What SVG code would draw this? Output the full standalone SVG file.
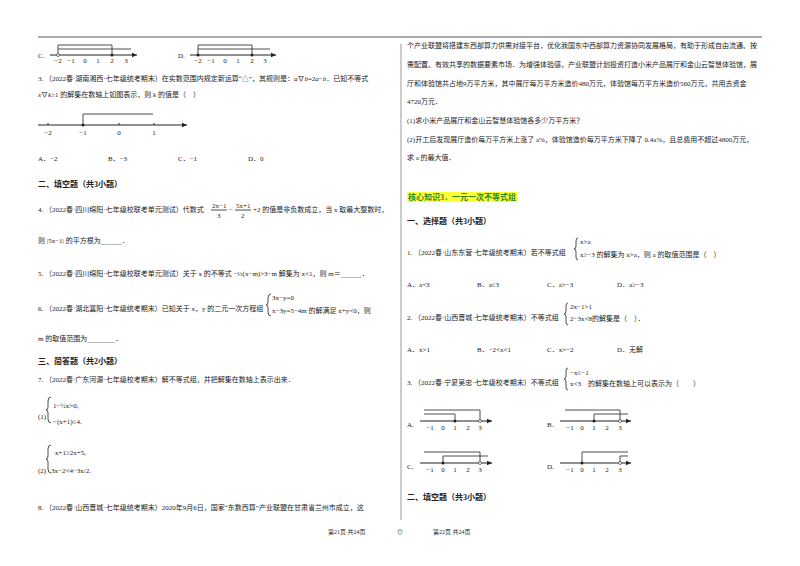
<svg xmlns="http://www.w3.org/2000/svg" width="800" height="566" viewBox="0 0 800 566">
<style>
text{font-family:"Liberation Serif","Noto Sans CJK SC",serif;font-size:7px;fill:#222}
.b{font-weight:bold;font-size:8px}
.ax{stroke:#222;stroke-width:1;fill:none}
.br{stroke:#222;stroke-width:0.8;fill:none}
.s{font-size:6px}
.n{text-anchor:middle}
</style>
<defs><marker id="ar" markerWidth="6" markerHeight="6" refX="5" refY="3" orient="auto"><path d="M0,0.8 L5,3 L0,5.2Z" fill="#222"/></marker></defs>
<rect width="800" height="566" fill="#fff"/>
<line x1="38" y1="37" x2="762" y2="37" stroke="#555" stroke-width="1"/>
<line x1="401" y1="44" x2="401" y2="520" stroke="#999" stroke-width="1"/>

<g id="left">
<text x="38" y="58">C.</text>
<line class="ax" x1="50" y1="55" x2="137" y2="55" marker-end="url(#ar)"/>
<polyline class="br" points="58,55 58,45 112,45 112,55"/><line class="br" x1="58" y1="49" x2="131" y2="49"/>
<circle cx="58" cy="55" r="1.5" fill="#fff" stroke="#222" stroke-width="0.6"/><circle cx="112" cy="55" r="1.5" fill="#222"/>
<g class="n"><text class="n" x="58" y="63">−2</text><text class="n" x="71" y="63">−1</text><text class="n" x="85" y="63">0</text><text class="n" x="98" y="63">1</text><text class="n" x="112" y="63">2</text><text class="n" x="126" y="63">3</text></g>
<text x="178" y="58">D.</text>
<line class="ax" x1="190" y1="55" x2="276" y2="55" marker-end="url(#ar)"/>
<polyline class="br" points="198,55 198,45 252,45 252,55"/><line class="br" x1="198" y1="49" x2="270" y2="49"/>
<circle cx="198" cy="55" r="1.5" fill="#222"/><circle cx="252" cy="55" r="1.5" fill="#222"/>
<text class="n" x="198" y="63">−2</text><text class="n" x="211" y="63">−1</text><text class="n" x="225" y="63">0</text><text class="n" x="238" y="63">1</text><text class="n" x="252" y="63">2</text><text class="n" x="265" y="63">3</text>

<text x="38" y="81">3. （2022春·湖南湘西·七年级统考期末）在实数范围内规定新运算“△”，其规则是：<tspan font-style="italic">a</tspan>∇<tspan font-style="italic">b</tspan>=2<tspan font-style="italic">a</tspan>−<tspan font-style="italic">b</tspan>．已知不等式</text>
<text x="38" y="97"><tspan font-style="italic">x</tspan>∇<tspan font-style="italic">k</tspan>≥1 的解集在数轴上如图表示，则 <tspan font-style="italic">k</tspan> 的值是（　）</text>
<line class="ax" x1="38" y1="125" x2="187" y2="125" marker-end="url(#ar)"/>
<polyline class="br" points="83,125 83,114 153,114"/><circle cx="83" cy="125" r="1.5" fill="#222"/>
<line class="ax" x1="48" y1="123" x2="48" y2="125"/><line class="ax" x1="119" y1="123" x2="119" y2="125"/><line class="ax" x1="154" y1="123" x2="154" y2="125"/>
<text class="n" x="48" y="135">−2</text><text class="n" x="83" y="135">−1</text><text class="n" x="119" y="135">0</text><text class="n" x="154" y="135">1</text>
<text x="38" y="161">A．−2</text><text x="108" y="161">B．−3</text><text x="178" y="161">C．−1</text><text x="248" y="161">D．0</text>
<text class="b" x="38" y="187">二、填空题（共3小题）</text>
<text x="38" y="212">4. （2022春·四川绵阳·七年级校联考单元测试）代数式</text>
<text x="212" y="208">2x−1</text><line class="br" x1="211" y1="210" x2="227" y2="210"/><text x="217" y="218">3</text>
<text x="229" y="212">−</text><text x="236" y="208">5x+1</text><line class="br" x1="235" y1="210" x2="251" y2="210"/><text x="241" y="218">2</text>
<text x="253" y="212">+2 的值是非负数成立，当 x 取最大整数时，</text>
<text x="38" y="243">则 |5x−1| 的平方根为＿＿＿．</text>
<text x="38" y="276">5. （2022春·四川绵阳·七年级校联考单元测试）关于 x 的不等式 −⅓(x−m)&gt;3−m 解集为 x&lt;1，则 m＝＿＿＿．</text>
<text x="272" y="300">3x−y=0</text><text x="272" y="313">x−3y=5−4m 的解满足 x+y&lt;0，则</text>
<path class="br" d="M271,294 q-3,0 -3,4 v4 q0,3 -2,3 q2,0 2,3 v4 q0,4 3,4"/>
<text x="38" y="311">6. （2022春·湖北襄阳·七年级统考期末）已知关于 x，y 的二元一次方程组</text>
<text x="38" y="341">m 的取值范围为＿＿＿＿．</text>
<text class="b" x="38" y="364">三、简答题（共2小题）</text>
<text x="38" y="382">7. （2022春·广东河源·七年级校考期末）解不等式组，并把解集在数轴上表示出来．</text>
<path class="br" d="M51,397 q-3,0 -3,4 v6 q0,3 -2,3 q2,0 2,3 v6 q0,4 3,4"/>
<text x="38" y="419">(1)</text><text x="53" y="408">1−½x&gt;0,</text><text x="53" y="424">−(x+1)≤4.</text>
<path class="br" d="M51,445 q-3,0 -3,4 v7 q0,3 -2,3 q2,0 2,3 v7 q0,4 3,4"/>
<text x="38" y="473">(2)</text><text x="55" y="455">x+1≥2x+5,</text><text x="51" y="473">3x−2&lt;4−3x/2.</text>
<text x="38" y="510">8. （2022春·山西晋城·七年级统考期末）2020年9月6日，国家“东数西算”产业联盟在甘肃省兰州市成立，这</text>
<text x="328" y="534" class="s">第21页 共24页</text>
<text x="397" y="534" class="s">⊙</text>
</g>

<g id="right">
<text x="407" y="48">个产业联盟将搭建东西部算力供需对接平台，优化我国东中西部算力资源协同发展格局，有助于形成自由流通、按</text>
<text x="407" y="67">需配置、有效共享的数据要素市场．为增强体验感，产业联盟计划投资打造小米产品展厅和金山云智慧体验馆，展</text>
<text x="407" y="86">厅和体验馆共占地9万平方米，其中展厅每万平方米造价480万元，体验馆每万平方米造价560万元，共用去资金</text>
<text x="407" y="104">4720万元．</text>
<text x="407" y="123">(1)求小米产品展厅和金山云智慧体验馆各多少万平方米？</text>
<text x="407" y="142">(2)开工后发现展厅造价每万平方米上涨了 a%，体验馆造价每万平方米下降了 0.4a%，且总费用不超过4800万元，</text>
<text x="407" y="160">求 a 的最大值．</text>
<rect x="407" y="192" width="110" height="10" fill="#ffff33"/>
<text x="408" y="200" style="fill:#2a8a2a;font-weight:bold;font-size:8px">核心知识3．一元一次不等式组</text>
<text class="b" x="407" y="224">一、选择题（共3小题）</text>
<path class="br" d="M578,238 q-2,0 -2,3 v5 q0,3 -2,3 q2,0 2,3 v5 q0,3 2,3"/>
<text x="580" y="244">x&gt;a</text><text x="580" y="257">x≥−3 的解集为 x&gt;a，则 a 的取值范围是（　）</text>
<text x="407" y="255">1. （2022春·山东东营·七年级统考期末）若不等式组</text>
<text x="407" y="287">A．a&lt;3</text><text x="477" y="287">B．a≤3</text><text x="547" y="287">C．a&gt;−3</text><text x="617" y="287">D．a≥−3</text>
<path class="br" d="M568,303 q-2,0 -2,3 v5 q0,3 -2,3 q2,0 2,3 v5 q0,3 2,3"/>
<text x="570" y="309">2x−1&gt;1</text><text x="570" y="321">2−3x&lt;8的解集是（　）．</text>
<text x="407" y="320">2. （2022春·山西晋城·七年级统考期末）不等式组</text>
<text x="407" y="352">A．x&gt;1</text><text x="477" y="352">B．−2&lt;x&lt;1</text><text x="547" y="352">C．x&gt;−2</text><text x="617" y="352">D．无解</text>
<path class="br" d="M568,368 q-2,0 -2,3 v5 q0,3 -2,3 q2,0 2,3 v5 q0,3 2,3"/>
<text x="570" y="375">−x≤−1</text><text x="570" y="386">x&lt;3　的解集在数轴上可以表示为（　　）</text>
<text x="407" y="385">3. （2022春·宁夏吴忠·七年级校考期末）不等式组</text>

<text x="407" y="427">A.</text>
<line class="ax" x1="420" y1="421" x2="492" y2="421" marker-end="url(#ar)"/>
<polyline class="br" points="424,410 480,410 480,421"/><polyline class="br" points="424,414 455,414 455,421"/>
<circle cx="455" cy="421" r="1.5" fill="#222"/><circle cx="480" cy="421" r="1.5" fill="#fff" stroke="#222" stroke-width="0.6"/>
<text class="n" x="430" y="430">−1</text><text class="n" x="443" y="430">0</text><text class="n" x="455" y="430">1</text><text class="n" x="468" y="430">2</text><text class="n" x="480" y="430">3</text>
<text x="547" y="427">B.</text>
<line class="ax" x1="560" y1="421" x2="631" y2="421" marker-end="url(#ar)"/>
<polyline class="br" points="565,410 620,410 620,421"/><polyline class="br" points="594,421 594,414 628,414"/>
<circle cx="594" cy="421" r="1.5" fill="#222"/><circle cx="620" cy="421" r="1.5" fill="#fff" stroke="#222" stroke-width="0.6"/>
<text class="n" x="570" y="430">−1</text><text class="n" x="582" y="430">0</text><text class="n" x="594" y="430">1</text><text class="n" x="607" y="430">2</text><text class="n" x="620" y="430">3</text>
<text x="407" y="469">C.</text>
<line class="ax" x1="420" y1="463" x2="492" y2="463" marker-end="url(#ar)"/>
<polyline class="br" points="424,452 480,452 480,463"/><polyline class="br" points="443,463 443,456 488,456"/>
<circle cx="443" cy="463" r="1.5" fill="#222"/><circle cx="480" cy="463" r="1.5" fill="#fff" stroke="#222" stroke-width="0.6"/>
<text class="n" x="430" y="472">−1</text><text class="n" x="443" y="472">0</text><text class="n" x="455" y="472">1</text><text class="n" x="468" y="472">2</text><text class="n" x="480" y="472">3</text>
<text x="547" y="469">D.</text>
<line class="ax" x1="560" y1="463" x2="631" y2="463" marker-end="url(#ar)"/>
<polyline class="br" points="582,463 582,452 628,452"/><polyline class="br" points="620,463 620,456 628,456"/>
<circle cx="582" cy="463" r="1.5" fill="#222"/><circle cx="620" cy="463" r="1.5" fill="#fff" stroke="#222" stroke-width="0.6"/>
<text class="n" x="570" y="472">−1</text><text class="n" x="582" y="472">0</text><text class="n" x="594" y="472">1</text><text class="n" x="607" y="472">2</text><text class="n" x="620" y="472">3</text>
<text class="b" x="407" y="500">二、填空题（共3小题）</text>
<text x="433" y="534" class="s">第22页 共24页</text>
</g>
</svg>
